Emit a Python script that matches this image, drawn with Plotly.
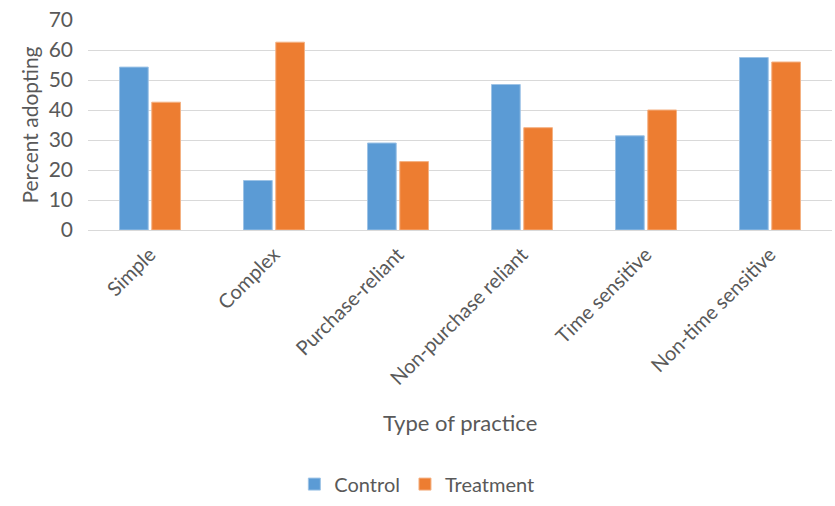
import plotly.graph_objects as go

categories = ["Simple", "Complex", "Purchase-reliant", "Non-purchase reliant",
              "Time sensitive", "Non-time sensitive"]
control = [54.3, 16.5, 29.0, 48.5, 31.4, 57.5]
treatment = [42.6, 62.6, 22.8, 34.1, 40.0, 56.0]
y_ticks = [0, 10, 20, 30, 40, 50, 60, 70]

FONT = "Lato"
GRAY = "#595959"

fig = go.Figure()
fig.add_trace(go.Bar(name="Control", x=categories, y=control,
                     marker=dict(color="#5B9BD5", line=dict(color="#9DC3E6", width=1))))
fig.add_trace(go.Bar(name="Treatment", x=categories, y=treatment,
                     marker=dict(color="#ED7D31", line=dict(color="#F4B183", width=1))))

fig.update_layout(
    width=835, height=506,
    margin=dict(l=88, r=3, t=20, b=271),
    plot_bgcolor="white", paper_bgcolor="white",
    barmode="group", bargap=0.48, bargroupgap=0.11,
    font=dict(family=FONT, color=GRAY, size=20),
    showlegend=True,
    legend=dict(orientation="h", x=0.442, xanchor="center", y=-1.21, yanchor="middle",
                font=dict(size=20, color=GRAY, family=FONT), itemwidth=30, tracegroupgap=0),
    annotations=[
        dict(text="Type of practice", xref="paper", yref="paper", x=0.5, y=-0.915,
             showarrow=False, font=dict(size=22, color=GRAY, family=FONT),
             xanchor="center", yanchor="middle"),
    ],
)
fig.update_xaxes(
    tickangle=-45, tickfont=dict(size=20, color=GRAY, family=FONT),
    showgrid=False, showline=True, linecolor="#D9D9D9", linewidth=1,
    ticks="", automargin=False, ticklabelstandoff=4,
)
fig.update_yaxes(
    range=[0, 70], tickvals=y_ticks, showgrid=True, gridcolor="#D9D9D9", gridwidth=1,
    zeroline=False, showline=False, ticks="", automargin=False,
    tickfont=dict(size=21, color=GRAY, family=FONT), ticklabelstandoff=14,
    title=dict(text="Percent adopting", font=dict(size=21, color=GRAY, family=FONT), standoff=4),
)

fig.write_html("out.html")
